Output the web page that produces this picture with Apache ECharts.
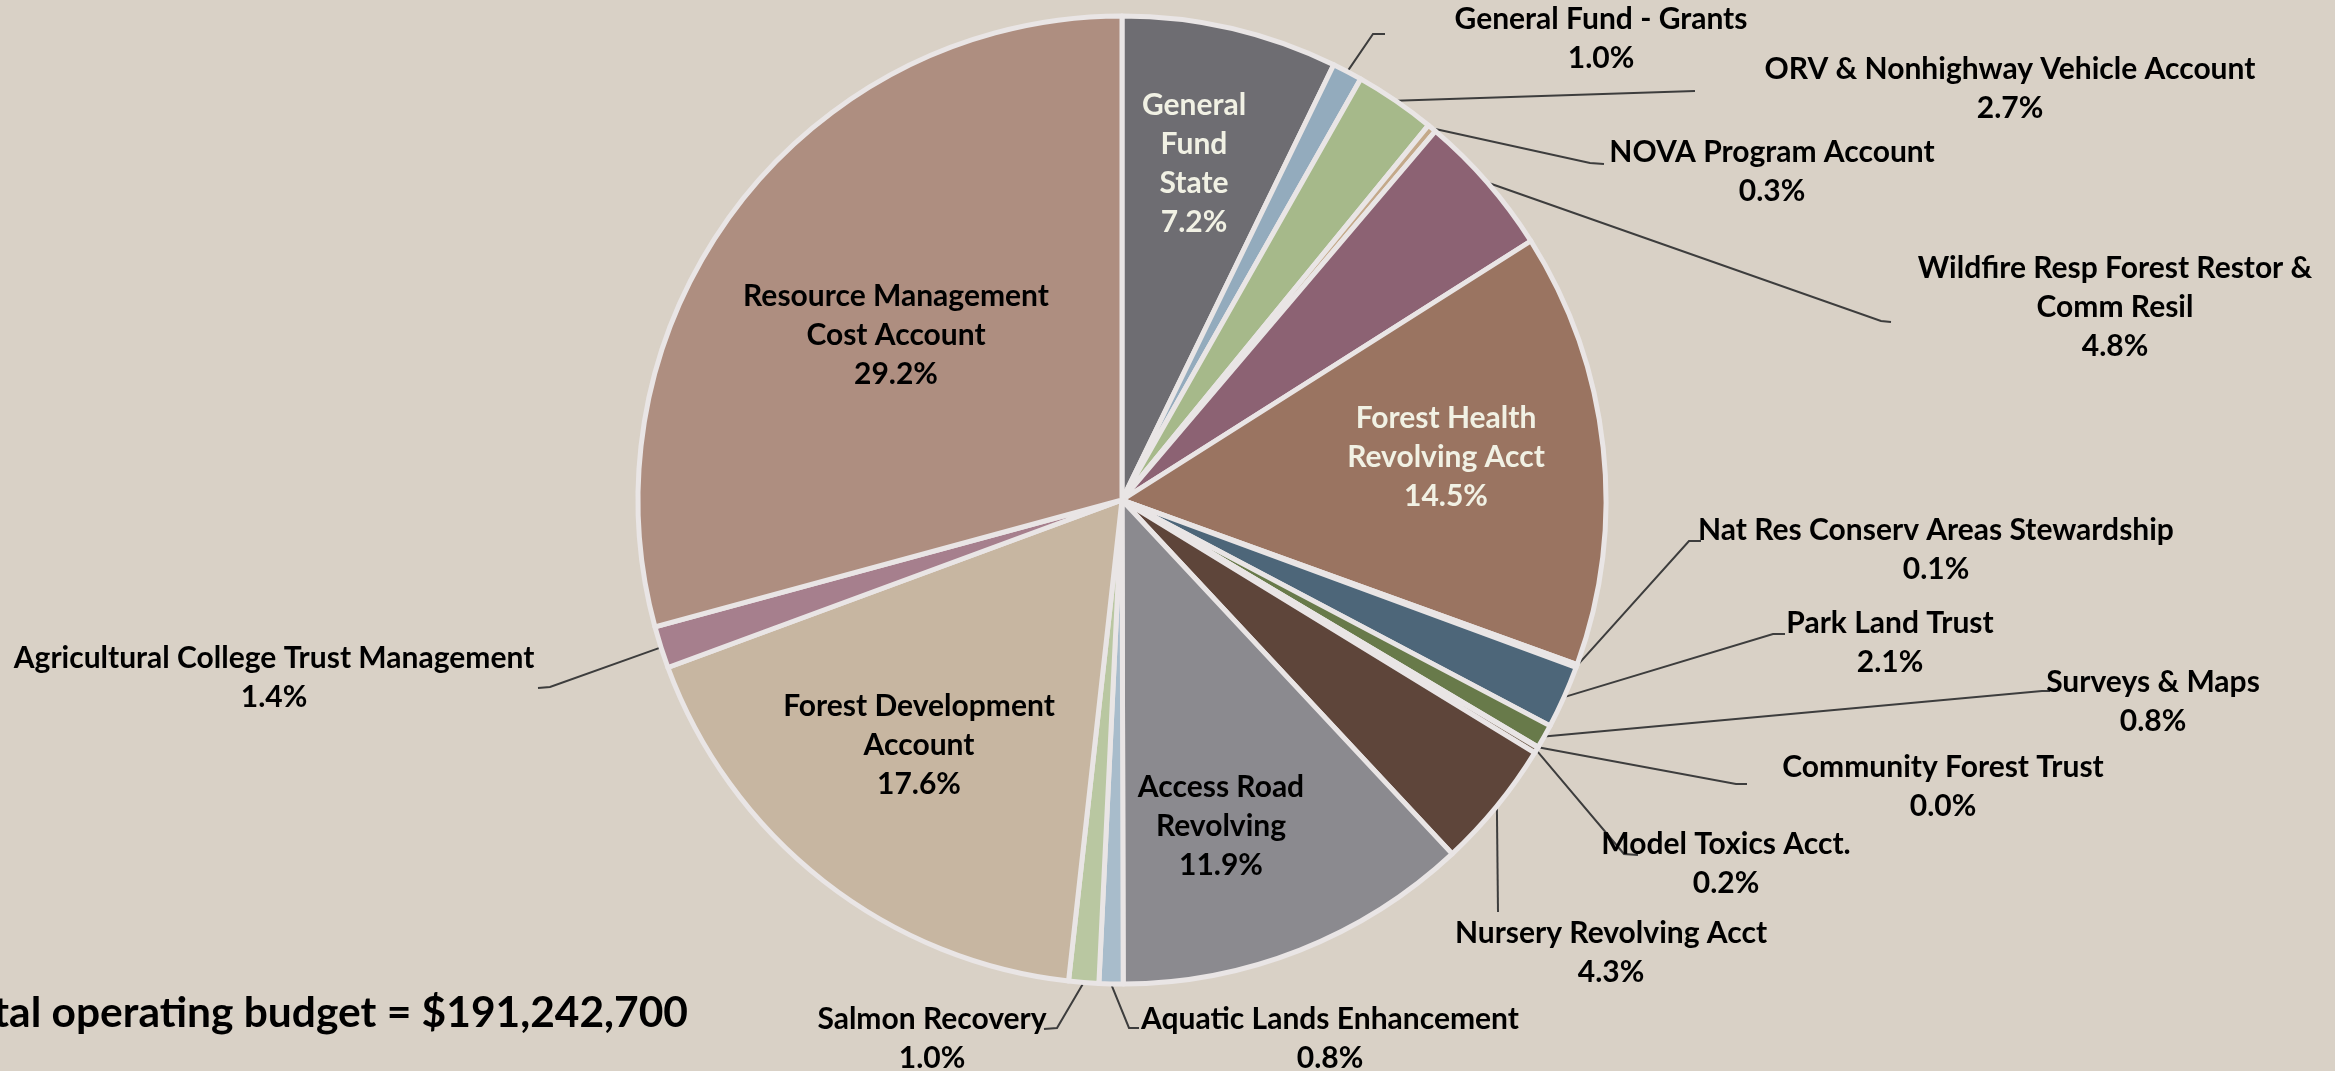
<!DOCTYPE html>
<html>
<head>
<meta charset="utf-8">
<script src="https://cdn.jsdelivr.net/npm/echarts@6/dist/echarts.min.js"></script>
<style>
  html, body { margin: 0; padding: 0; background: #d9d1c6; }
  #chart { width: 2335px; height: 1071px; }
</style>
</head>
<body>
<div id="chart"></div>
<script>
// ---- data (clockwise from 12 o'clock) ----
const categories = [
  'General Fund State', 'General Fund - Grants', 'ORV & Nonhighway Vehicle Account',
  'NOVA Program Account', 'Wildfire Resp Forest Restor & Comm Resil', 'Forest Health Revolving Acct',
  'Nat Res Conserv Areas Stewardship', 'Park Land Trust', 'Surveys & Maps',
  'Community Forest Trust', 'Model Toxics Acct.', 'Nursery Revolving Acct',
  'Access Road Revolving', 'Aquatic Lands Enhancement', 'Salmon Recovery',
  'Forest Development Account', 'Agricultural College Trust Management', 'Resource Management Cost Account'
];
const sharePct = [7.2, 1.0, 2.7, 0.3, 4.8, 14.5, 0.1, 2.1, 0.8, 0.02, 0.2, 4.3, 11.9, 0.8, 1.0, 17.6, 1.4, 29.2];
const labelLines = [
  'General\nFund\nState', 'General Fund - Grants', 'ORV & Nonhighway Vehicle Account',
  'NOVA Program Account', 'Wildfire Resp Forest Restor &\nComm Resil', 'Forest Health\nRevolving Acct',
  'Nat Res Conserv Areas Stewardship', 'Park Land Trust', 'Surveys & Maps',
  'Community Forest Trust', 'Model Toxics Acct.', 'Nursery Revolving Acct',
  'Access Road\nRevolving', 'Aquatic Lands Enhancement', 'Salmon Recovery',
  'Forest Development\nAccount', 'Agricultural College Trust Management', 'Resource Management\nCost Account'
];
const totalText = 'Total operating budget = $191,242,700';

// ---- styles ----
const sliceColors = [
  '#6e6d72', '#93abbd', '#a6b98a', '#c4a98a', '#8c6273', '#9a7461',
  '#b8a27c', '#4d6679', '#687a4a', '#8a8a8a', '#7b6a5a', '#5e453a',
  '#8b8a8f', '#a8bccb', '#b9c7a1', '#c7b6a1', '#a67f8d', '#ae8e80'
];
const insideLight = [0, 5];          // indices with light text inside
const insideDark = [12, 15, 17];      // indices with dark text inside

// ---- label layout (label centre, leader-line elbow & end) ----
const labelLayoutSpec = [
  { at: [1194, 164] },
  { at: [1601, 39], line: [[1373, 34], [1385, 34]] },
  { at: [2010, 89], line: [[1695, 91]] },
  { at: [1772, 172], line: [[1590, 163], [1604, 164]] },
  { at: [2115, 307], line: [[1881, 321], [1891, 322]] },
  { at: [1446, 457] },
  { at: [1936, 550], line: [[1689, 541], [1701, 541]] },
  { at: [1890, 643], line: [[1773, 634], [1785, 634]] },
  { at: [2153, 702], line: [[2042, 691], [2050, 691]] },
  { at: [1943, 787], line: [[1736, 784], [1747, 784]] },
  { at: [1726, 864], line: [[1624, 854], [1638, 855]] },
  { at: [1611, 953], line: [[1498, 912]] },
  { at: [1221, 826] },
  { at: [1330, 1039], line: [[1129, 1028], [1139, 1028]] },
  { at: [932, 1039], line: [[1057, 1028], [1044, 1029]] },
  { at: [919, 745] },
  { at: [274, 678], line: [[550, 687], [538, 688]] },
  { at: [896, 335] }
];

const FONT = "Lato, 'Open Sans', sans-serif";

const data = categories.map((name, i) => {
  const inside = insideLight.includes(i) || insideDark.includes(i);
  return {
    name: name,
    value: sharePct[i],
    itemStyle: { color: sliceColors[i] },
    label: {
      position: inside ? 'inside' : 'outside',
      color: insideLight.includes(i) ? '#f1f1e4' : '#000000'
    },
    labelLine: { show: !inside }
  };
});

const chart = echarts.init(document.getElementById('chart'), null, { renderer: 'canvas' });
chart.setOption({
  backgroundColor: '#d9d1c6',
  animation: false,
  series: [{
    type: 'pie',
    center: [1122, 500],
    radius: 484,
    startAngle: 90,
    clockwise: true,
    avoidLabelOverlap: false,
    itemStyle: { borderColor: '#e9e5e5', borderWidth: 5 },
    label: {
      show: true,
      fontFamily: FONT,
      fontWeight: 'bold',
      fontSize: 30,
      lineHeight: 39,
      align: 'center',
      overflow: 'none',
      formatter: p => labelLines[p.dataIndex] + '\n' + p.value.toFixed(1) + '%'
    },
    labelLine: { show: true, lineStyle: { color: '#3d3d3d', width: 2 }, length: 10, length2: 10 },
    emphasis: { disabled: true },
    labelLayout: function (params) {
      const L = labelLayoutSpec[params.dataIndex];
      const res = { x: L.at[0], y: L.at[1], align: 'center', verticalAlign: 'middle' };
      if (L.line && params.labelLinePoints) {
        res.labelLinePoints = [params.labelLinePoints[0]].concat(L.line);
      }
      return res;
    },
    data: data
  }],
  graphic: [{
    type: 'text',
    x: 688,
    y: 1013,
    style: {
      text: totalText,
      align: 'right',
      verticalAlign: 'middle',
      fill: '#000',
      font: "bold 42.5px Lato, 'Open Sans', sans-serif"
    }
  }]
});
</script>
</body>
</html>
